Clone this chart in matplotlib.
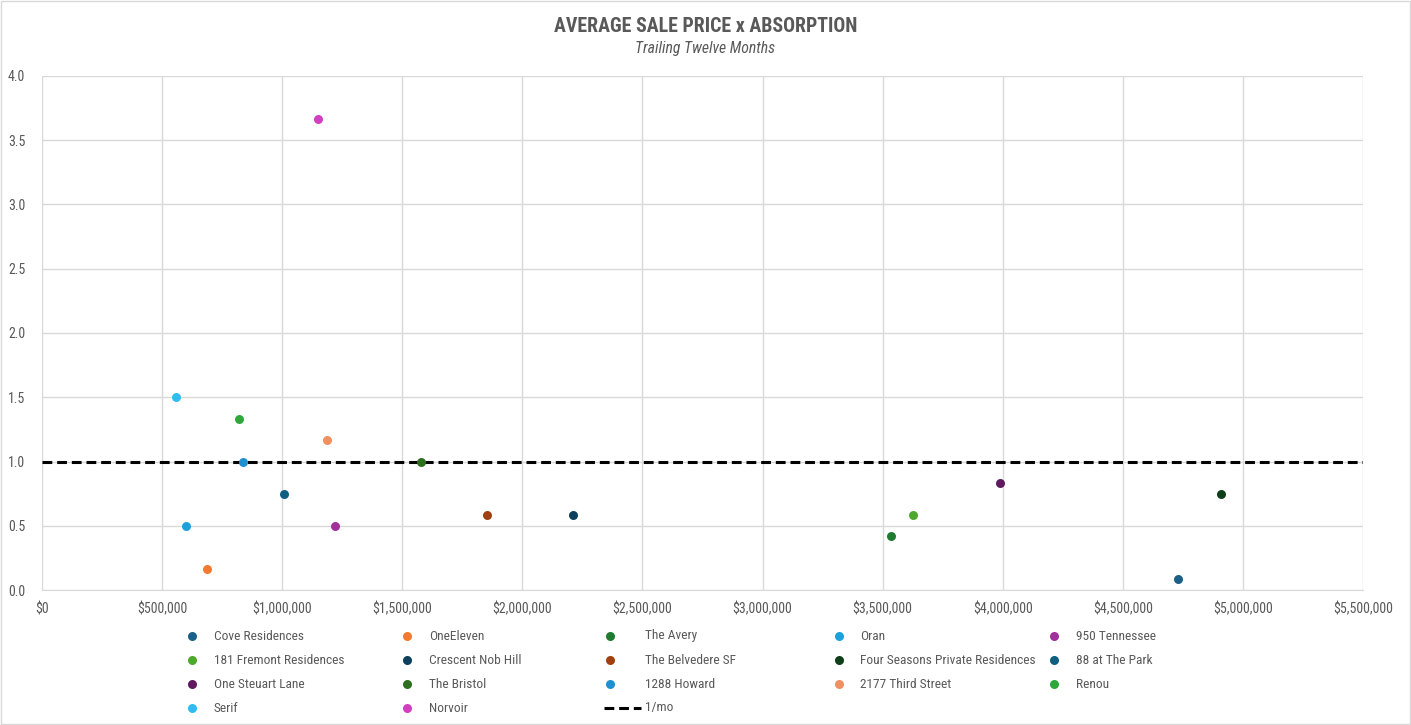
import matplotlib
matplotlib.use("Agg")
import matplotlib.pyplot as plt
from matplotlib import font_manager
from matplotlib.ticker import FuncFormatter, MultipleLocator
from matplotlib.lines import Line2D

# pick a narrow font if one is available
names = {f.name for f in font_manager.fontManager.ttflist}
FONT = "Roboto"
for cand in ["Roboto Condensed", "Liberation Sans Narrow", "Open Sans Condensed"]:
    if cand in names:
        FONT = cand
        break
plt.rcParams["font.family"] = [FONT, "DejaVu Sans"]

# data
projects = [
    "Cove Residences", "OneEleven", "The Avery", "Oran", "950 Tennessee",
    "181 Fremont Residences", "Crescent Nob Hill", "The Belvedere SF",
    "Four Seasons Private Residences", "88 at The Park", "One Steuart Lane",
    "The Bristol", "1288 Howard", "2177 Third Street", "Renou", "Serif", "Norvoir",
]
avg_price = [
    4730000, 687000, 3535000, 600000, 1220000,
    3626000, 2211000, 1853000,
    4908000, 1007000, 3988000,
    1578000, 837000, 1187000, 820000, 558000, 1149000,
]
absorption = [
    0.083, 0.167, 0.417, 0.5, 0.5,
    0.583, 0.583, 0.583,
    0.75, 0.75, 0.833,
    1.0, 1.0, 1.167, 1.333, 1.5, 3.667,
]
colors = [
    "#1B6088", "#F07A30", "#1E7B30", "#1DA0DC", "#A0309A",
    "#4EA82E", "#0E3F5C", "#A04010",
    "#0F3F1A", "#0E5F80", "#5F1A5F",
    "#2E6F1F", "#1F90D0", "#F08F5F", "#2EA83A", "#2FBDF0", "#D040C0",
]
line_x = [0, 5500000]
line_y = [1, 1]

grey = "#595959"
dash = (0, (3.2, 1.6))
W, H = 1411, 725

fig = plt.figure(figsize=(W / 100, H / 100), dpi=100)
ax = fig.add_axes([42 / W, 1 - 590 / H, 1321 / W, 514 / H])

for name, x, y, c in zip(projects, avg_price, absorption, colors):
    ax.scatter(x, y, s=42, color=c, zorder=3, linewidths=0, label=name)
ax.plot(line_x, line_y, color="black", lw=2.2, ls=dash, zorder=2, label="1/mo")

ax.set_xlim(0, 5500000)
ax.set_ylim(0, 4.0)
ax.xaxis.set_major_locator(MultipleLocator(500000))
ax.yaxis.set_major_locator(MultipleLocator(0.5))
ax.xaxis.set_major_formatter(FuncFormatter(lambda v, p: f"${v:,.0f}"))
ax.yaxis.set_major_formatter(FuncFormatter(lambda v, p: f"{v:.1f}"))
ax.grid(True, color="#D9D9D9", lw=1)
ax.set_axisbelow(True)
for s in ax.spines.values():
    s.set_visible(False)
ax.spines["bottom"].set_visible(True)
ax.spines["bottom"].set_color("#D9D9D9")
ax.tick_params(length=0, colors=grey, labelsize=10)
ax.tick_params(axis="x", pad=9)
ax.tick_params(axis="y", pad=12)

fig.text(0.5, 1 - 27 / H, "AVERAGE SALE PRICE x ABSORPTION", ha="center", va="center",
         fontsize=14.3, fontweight="bold", color=grey)
fig.text(0.5, 1 - 49 / H, "Trailing Twelve Months", ha="center", va="center",
         fontsize=11.3, style="italic", color=grey)

# legend laid out row-wise like the original (drawn by hand, pixel positions)
color_of = dict(zip(projects, colors))
columns = [
    ["Cove Residences", "181 Fremont Residences", "One Steuart Lane", "Serif"],
    ["OneEleven", "Crescent Nob Hill", "The Bristol", "Norvoir"],
    ["The Avery", "The Belvedere SF", "1288 Howard", "1/mo"],
    ["Oran", "Four Seasons Private Residences", "2177 Third Street"],
    ["950 Tennessee", "88 at The Park", "Renou"],
]
marker_x = [192, 407, 610, 839, 1054]
text_x = [214, 429, 645, 860, 1076]
row_y = [636, 660, 684, 708]
for col, mx, tx in zip(columns, marker_x, text_x):
    for n, py in zip(col, row_y):
        yy = 1 - py / H
        if n == "1/mo":
            fig.add_artist(Line2D([604 / W, 641 / W], [yy, yy], color="black", lw=2.2, ls=dash))
        else:
            fig.add_artist(Line2D([mx / W], [yy], marker="o", ls="", markersize=6.5,
                                  markerfacecolor=color_of[n], markeredgewidth=0))
        fig.text(tx / W, yy, n, ha="left", va="center", fontsize=9.6, color=grey)

fig.patches.append(plt.Rectangle((0.001, 0.001), 0.998, 0.998, transform=fig.transFigure,
                                 fill=False, edgecolor="#D9D9D9", lw=1))
fig.savefig("out.png", dpi=100)
